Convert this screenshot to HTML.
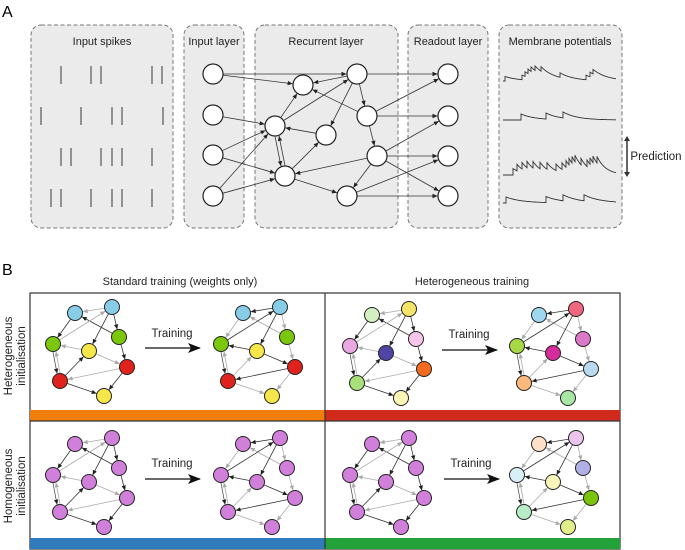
<!DOCTYPE html>
<html><head><meta charset="utf-8"><style>
body{margin:0;background:#fff;width:685px;height:550px;overflow:hidden}
svg{display:block;font-family:"Liberation Sans",sans-serif}
</style></head><body>
<svg id="s" width="685" height="550" viewBox="0 0 685 550" xmlns="http://www.w3.org/2000/svg">
<defs>
<marker id="a" markerWidth="6" markerHeight="6" refX="5" refY="3" orient="auto" markerUnits="userSpaceOnUse"><path d="M0,0.8 L5,3 L0,5.2z" fill="#222"/></marker>
<marker id="al" markerWidth="6" markerHeight="6" refX="5" refY="3" orient="auto" markerUnits="userSpaceOnUse"><path d="M0,0.8 L5,3 L0,5.2z" fill="#aaa"/></marker>
<marker id="big" markerWidth="14" markerHeight="10" refX="12" refY="5" orient="auto" markerUnits="userSpaceOnUse"><path d="M0,0 L13,5 L0,10 L3,5z" fill="#111"/></marker>
</defs>
<text x="2" y="17" font-size="16">A</text>
<text x="2" y="275" font-size="16">B</text>
<g fill="#ebebeb" stroke="#777" stroke-dasharray="4,2.5" stroke-width="1">
<rect x="31" y="25" width="142" height="203" rx="10"/>
<rect x="184" y="25" width="60" height="203" rx="10"/>
<rect x="255" y="25" width="143" height="203" rx="10"/>
<rect x="408" y="25" width="80" height="203" rx="10"/>
<rect x="499" y="25" width="123" height="203" rx="10"/>
</g>
<g font-size="11" fill="#222" text-anchor="middle">
<text x="102" y="45">Input spikes</text>
<text x="214" y="45">Input layer</text>
<text x="326" y="45">Recurrent layer</text>
<text x="448" y="45">Readout layer</text>
<text x="560" y="45">Membrane potentials</text>
<text x="656" y="160" font-size="11.5">Prediction</text>
</g>
<g id="spk" stroke="#555" stroke-width="1.2"></g>
<g id="neta"></g>
<g id="mem" fill="none" stroke="#333" stroke-width="0.9"></g>
<line x1="627" y1="140" x2="627" y2="173" stroke="#333" stroke-width="1.5"/>
<path d="M624,141 L627,136 L630,141z M624,172 L627,177 L630,172z" fill="#333"/>

<g font-size="11" fill="#222" text-anchor="middle">
<text x="180" y="285">Standard training (weights only)</text>
<text x="472" y="285">Heterogeneous training</text>
</g>
<rect x="30" y="293" width="590" height="256" fill="#fff" stroke="#333" stroke-width="1.2"/>
<rect x="30" y="410" width="295" height="11" fill="#ef7e0b"/>
<rect x="325" y="410" width="295" height="11" fill="#d02a1c"/>
<rect x="30" y="538" width="295" height="11" fill="#2f7bbb"/>
<rect x="325" y="538" width="295" height="11" fill="#24a23a"/>
<line x1="325" y1="293" x2="325" y2="549" stroke="#333" stroke-width="1.2"/>
<line x1="30" y1="421" x2="620" y2="421" stroke="#333" stroke-width="1.2"/>
<g font-size="11.5" fill="#222" text-anchor="middle">
<text transform="translate(12,356) rotate(-90)">Heterogeneous</text>
<text transform="translate(25,356) rotate(-90)">initialisation</text>
<text transform="translate(12,486) rotate(-90)">Homogeneous</text>
<text transform="translate(25,486) rotate(-90)">initialisation</text>
<text x="172" y="337">Training</text>
<text x="172" y="467">Training</text>
<text x="469" y="338">Training</text>
<text x="471" y="467">Training</text>
</g>
<g stroke="#111" stroke-width="1.3">
<line x1="145" y1="348" x2="200" y2="348" marker-end="url(#big)"/>
<line x1="145" y1="479" x2="200" y2="479" marker-end="url(#big)"/>
<line x1="442" y1="350" x2="497" y2="350" marker-end="url(#big)"/>
<line x1="444" y1="479" x2="499" y2="479" marker-end="url(#big)"/>
</g>
<g id="netb"></g>
</svg>
<script>
var NS="http://www.w3.org/2000/svg";
function el(p,t,a){var e=document.createElementNS(NS,t);for(var k in a)e.setAttribute(k,a[k]);p.appendChild(e);return e;}
// spikes
var spk=document.getElementById('spk');
var rows=[[66,[61,91,101,152,162]],[107,[41,81,112,122,163]],[148,[61,71,101,112,122,152]],[189,[51,61,91,112,122,152]]];
rows.forEach(function(r){r[1].forEach(function(x){el(spk,'line',{x1:x,y1:r[0],x2:x,y2:r[0]+18});});});
// membrane traces
var mem=document.getElementById('mem');
function trace(y0,sp,h,tau){var d='M503,'+y0,v=0,last=503;for(var x=503;x<=616;x+=0.5){v*=Math.exp(-0.5/tau);if(sp.some(function(s){return Math.abs(s-x)<0.25;})){d+=' L'+x+','+(y0-v).toFixed(1);v+=h;}d+=' L'+x+','+(y0-v).toFixed(1);}el(mem,'path',{d:d});}
trace(81,[505,522,525,528,531,535,541,560,586,590,593],4.5,14);
trace(120,[521,546,563],6,14);
trace(175,[513,517,522,527,533,540,547,556,562,566,569,572,575,581,587,590,593,597],6.5,9);
trace(203,[506,546,563,584],6,16);
// panel A network
var na=document.getElementById('neta');
var N={I1:[213,74],I2:[213,115],I3:[213,155],I4:[213,196],R1:[303,85],R2:[275,126],R3:[326,135],R4:[285,176],R5:[357,74],R6:[367,116],R7:[377,156],R8:[347,196],O1:[448,74],O2:[448,116],O3:[448,156],O4:[448,196]};
var E=[['I1','R5'],['I1','R1'],['I2','R2'],['I3','R2'],['I3','R4'],['I4','R2'],['I4','R4'],['R2','R1'],['R5','R1'],['R6','R1'],['R3','R2'],['R4','R3'],['R5','R6'],['R5','R3'],['R6','R7'],['R7','R4'],['R7','R8'],['R4','R8'],['R5','O1'],['R6','O2'],['R6','O1'],['R7','O2'],['R7','O3'],['R7','O4'],['R8','O3'],['R8','O4'],['R2','R5']];
function arrow(g,a,b,r,col,mk,off){var dx=b[0]-a[0],dy=b[1]-a[1],L=Math.hypot(dx,dy),ux=dx/L,uy=dy/L,ox=-uy*off,oy=ux*off;el(g,'line',{x1:a[0]+ux*r+ox,y1:a[1]+uy*r+oy,x2:b[0]-ux*r+ox,y2:b[1]-uy*r+oy,stroke:col,'stroke-width':0.8,'marker-end':'url(#'+mk+')'});}
E.forEach(function(e){arrow(na,N[e[0]],N[e[1]],10.5,'#333','a',0);});
arrow(na,N.R2,N.R4,10.5,'#333','a',2);arrow(na,N.R4,N.R2,10.5,'#333','a',2);
for(var k in N)el(na,'circle',{cx:N[k][0],cy:N[k][1],r:10,fill:'#fff',stroke:'#222','stroke-width':1.2});
// panel B networks
var nb=document.getElementById('netb');
var P=[[75,313],[112,307],[53,344],[119,337],[89,351],[127,367],[60,381],[104,396]];
var EB=[[1,0,0],[0,2,1],[3,0,1],[1,3,1],[1,4,1],[2,1,0],[4,2,0],[6,4,1],[4,5,0],[3,5,1],[5,6,0],[5,7,1],[6,7,1]];
var EB2=[[1,0,1],[0,2,0],[3,0,0],[1,3,0],[1,4,1],[2,1,1],[4,2,1],[6,4,0],[4,5,1],[3,5,0],[5,6,1],[5,7,0],[6,7,0]];
function net(dx,dy,cols,edges){var g=el(nb,'g',{});var Q=P.map(function(p){return[p[0]+dx,p[1]+dy];});
edges.forEach(function(e){arrow(g,Q[e[0]],Q[e[1]],7.8,e[2]?'#333':'#aaa',e[2]?'a':'al',0);});
arrow(g,Q[2],Q[6],7.8,'#555','a',1.5);arrow(g,Q[6],Q[2],7.8,'#aaa','al',1.5);
Q.forEach(function(q,i){el(g,'circle',{cx:q[0],cy:q[1],r:7.5,fill:cols[i],stroke:'#222','stroke-width':1});});}
var B='#87cde8',G='#7ac70c',Y='#f6e64a',R='#df221b',Pu='#d07fda';
net(0,0,[B,B,G,G,Y,R,R,Y],EB);
net(168,0,[B,B,G,G,Y,R,R,Y],EB2);
var pp=[Pu,Pu,Pu,Pu,Pu,Pu,Pu,Pu];
net(0,131,pp,EB);
net(168,131,pp,EB2);
net(297,2,['#d3f0c0','#f5e46a','#e9a8e2','#f7c5ea','#4e45a6','#f26b20','#a8df78','#fcf6b4'],EB);
net(464,2,['#9dd8f0','#f0687f','#a6d848','#db78c8','#d42c9a','#b9d9f1','#fcb97c','#a9e6a6'],EB2);
net(297,131,pp,EB);
net(464,131,['#fde0c8','#ecc4ec','#d8eef8','#b0b0e6','#f8f5b8','#7cc30c','#b8ecc8','#e3ef8a'],EB2);
</script>
</body></html>
